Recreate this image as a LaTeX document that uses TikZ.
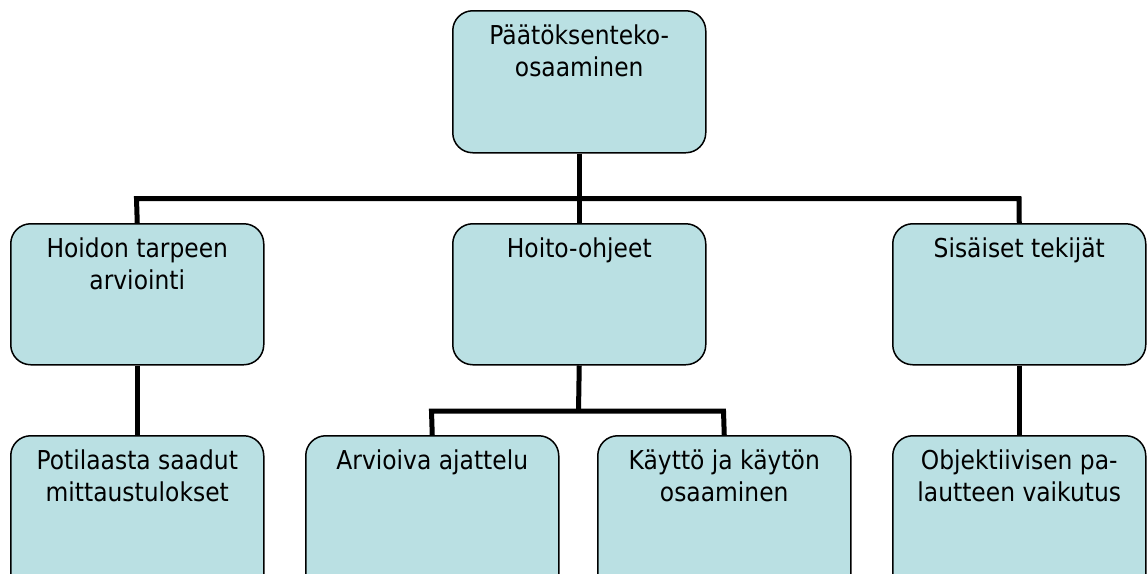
\documentclass[tikz,border=0pt]{standalone}
\usepackage{fontspec}
\setmainfont{DejaVu Sans}[FakeStretch=0.9]
\definecolor{boxfill}{RGB}{186,224,227}
\tikzset{
  orgbox/.style={draw=black, line width=1.5pt, rounded corners=20pt, fill=boxfill,
    inner sep=0pt, anchor=north west, minimum width=253pt},
  link/.style={draw=black, line width=5pt, line join=miter},
}
\newcommand{\boxtext}[2]{\parbox[c][#1][t]{253pt}{\centering\fontsize{26}{32}\selectfont\rule{0pt}{34pt}#2}}
\begin{document}
\begin{tikzpicture}[x=1pt,y=-1pt]
\useasboundingbox (0,0) rectangle (1148,573);
\clip (0,0) rectangle (1148,573);
% connector coordinates
\coordinate (barL) at (136.5,198.5);
\coordinate (barR) at (1019,198.5);
\coordinate (bar2L) at (431.5,411);
\coordinate (bar2R) at (723.5,411);
\coordinate (bar2M) at (578.5,411);
% nodes
\node[orgbox] (top) at (452,10) {\boxtext{142pt}{Päätöksenteko-\\osaaminen}};
\node[orgbox] (hl) at (10,223) {\boxtext{141pt}{Hoidon tarpeen\\arviointi}};
\node[orgbox] (hm) at (452,223) {\boxtext{141pt}{Hoito-ohjeet}};
\node[orgbox] (hr) at (892,223) {\boxtext{141pt}{Sisäiset tekijät}};
\node[orgbox] (bl) at (10,435) {\boxtext{160pt}{Potilaasta saadut\\mittaustulokset}};
\node[orgbox] (bm1) at (305,435) {\boxtext{160pt}{Arvioiva ajattelu}};
\node[orgbox] (bm2) at (597,435) {\boxtext{160pt}{Käyttö ja käytön\\osaaminen}};
\node[orgbox] (br) at (892,435) {\boxtext{160pt}{Objektiivisen pa-\\lautteen vaikutus}};
% connectors
\draw[link] (top.south) -- (hm.north);
\draw[link] (hl.north) -- (barL) -- (barR) -- (hr.north);
\draw[link] (hl.south) -- (bl.north);
\draw[link] (hr.south) -- (br.north);
\draw[link] (hm.south) -- (bar2M);
\draw[link] (bm1.north) -- (bar2L) -- (bar2R) -- (bm2.north);
\end{tikzpicture}
\end{document}
